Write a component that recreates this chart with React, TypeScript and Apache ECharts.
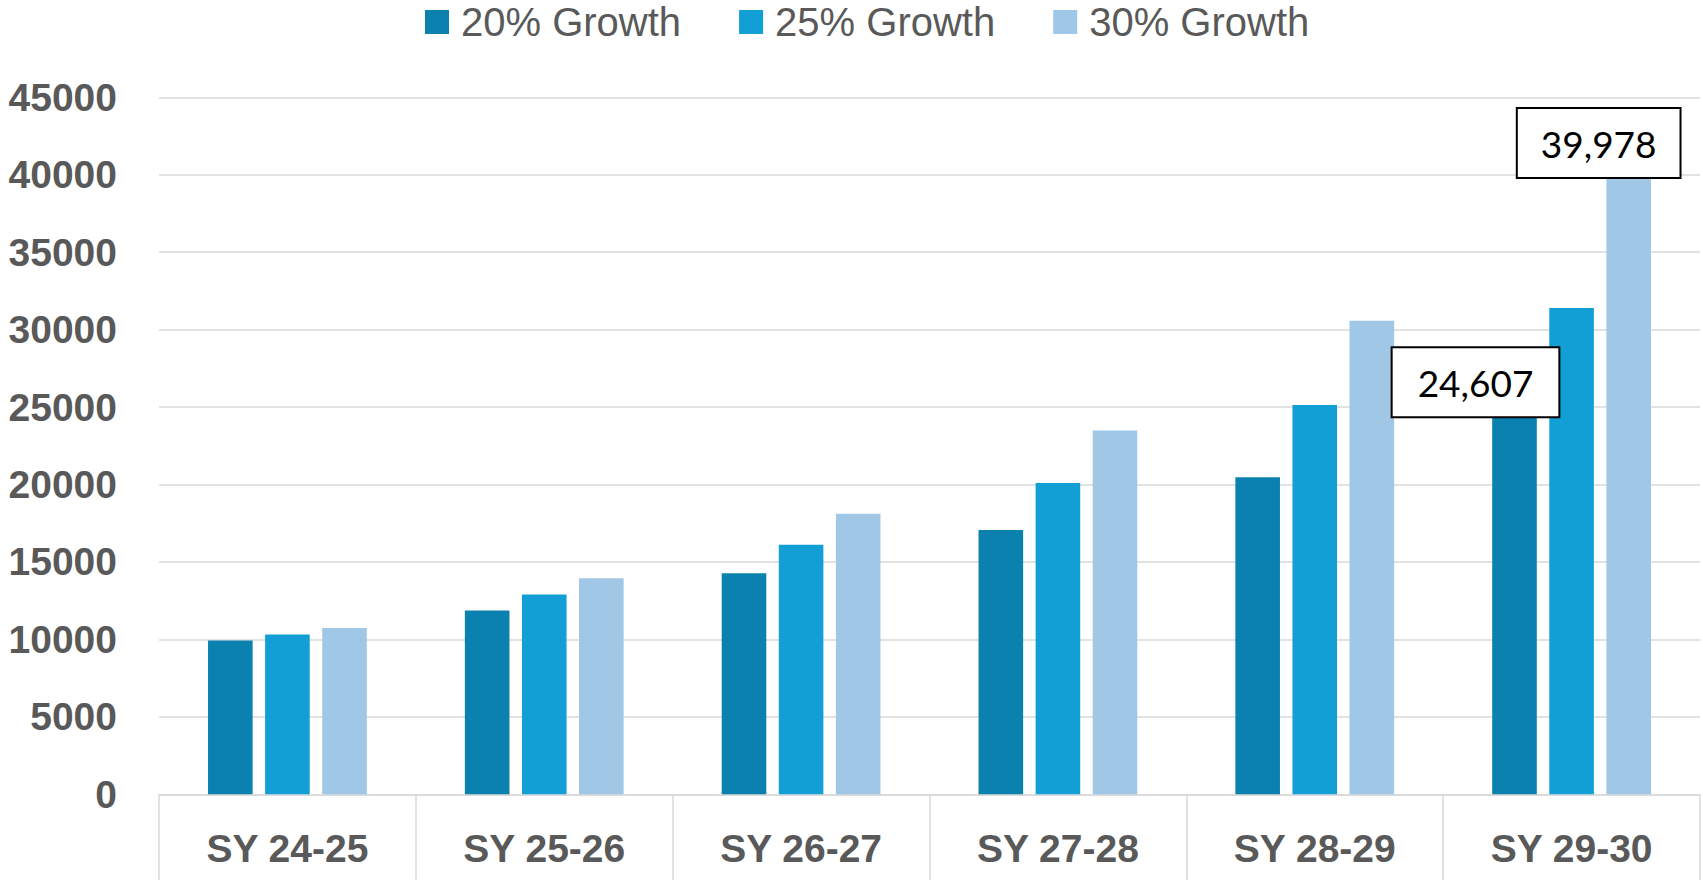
import React, { useEffect, useRef } from "react";
import * as echarts from "echarts";

const categories = ["SY 24-25", "SY 25-26", "SY 26-27", "SY 27-28", "SY 28-29", "SY 29-30"];
const seriesNames = ["20% Growth", "25% Growth", "30% Growth"];
const growth20 = [9935, 11871, 14269, 17065, 20462, 24607];
const growth25 = [10323, 12903, 16118, 20097, 25129, 31398];
const growth30 = [10731, 13946, 18118, 23495, 30581, 39978];
const colors = ["#0B81AF", "#119FD6", "#A1C7E7"];
const labelledIndex = 5;

const GRAY = "#595959";
const GRID = "#D9D9D9";

function boxLabel(offsetX: number, offsetY: number, padX: number) {
  return {
    show: true,
    position: "top",
    distance: 0,
    offset: [offsetX, offsetY],
    formatter: (p: any) => Number(p.value).toLocaleString("en-US"),
    fontFamily: "Lato",
    fontSize: 37,
    lineHeight: 40,
    color: "#000",
    backgroundColor: "#fff",
    borderColor: "#000",
    borderWidth: 2,
    padding: [14, padX, 14, padX],
  };
}

export default function App() {
  const ref = useRef<HTMLDivElement>(null);
  useEffect(() => {
    document.body.style.margin = "0";
    const chart = echarts.init(ref.current!, null, { renderer: "svg" });
    const d20 = growth20.map((v, i) =>
      i === labelledIndex ? { value: v, label: boxLabel(-39, 3, 25) } : v
    );
    const d30 = growth30.map((v, i) =>
      i === labelledIndex ? { value: v, label: boxLabel(-30, 2, 23) } : v
    );
    const data = [d20, growth25, d30];
    chart.setOption({
      animation: false,
      backgroundColor: "#fff",
      legend: {
        left: 420,
        top: -3,
        icon: "rect",
        itemWidth: 24,
        itemHeight: 24,
        itemGap: 58,
        textStyle: {
          fontFamily: "Liberation Sans",
          fontSize: 40,
          color: GRAY,
          padding: [0, 0, 0, 7],
        },
        data: seriesNames,
      },
      grid: { left: 159, right: 3, top: 97.3, bottom: 85.7, containLabel: false },
      xAxis: {
        type: "category",
        data: categories,
        axisLine: { show: true, lineStyle: { color: GRID, width: 1.5 } },
        axisTick: { show: true, length: 88, interval: 0, lineStyle: { color: GRID, width: 1.5 } },
        axisLabel: {
          margin: 35,
          fontFamily: "Liberation Sans",
          fontWeight: "bold",
          fontSize: 39,
          color: GRAY,
        },
      },
      yAxis: {
        type: "value",
        min: 0,
        max: 45000,
        interval: 5000,
        axisLine: { show: false },
        axisTick: { show: false },
        splitLine: { lineStyle: { color: GRID, width: 1.5 } },
        axisLabel: {
          margin: 42,
          formatter: (v: number) => String(v),
          fontFamily: "Liberation Sans",
          fontWeight: "bold",
          fontSize: 39,
          color: GRAY,
        },
      },
      series: seriesNames.map((name, k) => ({
        name,
        type: "bar",
        data: data[k],
        barWidth: 44.6,
        barGap: "28%",
        itemStyle: { color: colors[k] },
      })),
    });
    return () => chart.dispose();
  }, []);
  return (
    <div
      ref={ref}
      style={{ position: "absolute", left: 0, top: 0, width: 1703, height: 880 }}
    />
  );
}
